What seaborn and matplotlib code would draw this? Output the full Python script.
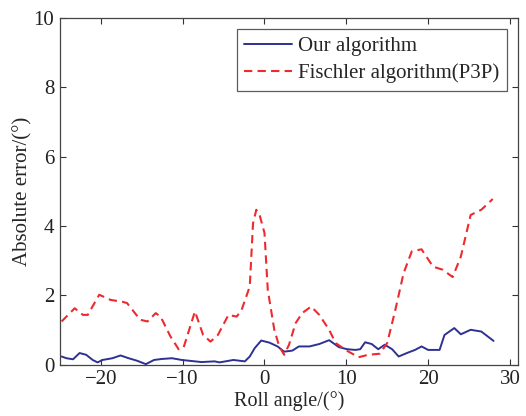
import pandas as pd
import seaborn as sns
import matplotlib.pyplot as plt

# Valores
ours_x = [-24.8, -24.2, -23.4, -22.6, -21.8, -21.0, -20.4, -19.8, -18.6, -17.6,
          -16.6, -15.6, -14.5, -13.5, -12.5, -11.3, -10.1, -9.3, -7.7, -6.1,
          -5.5, -3.8, -2.4, -1.8, -1.2, -0.4, 0.6, 1.6, 2.4, 3.4,
          4.2, 5.5, 6.7, 7.9, 9.1, 10.1, 11.1, 11.7, 12.3, 13.1,
          13.9, 14.7, 15.6, 16.4, 17.4, 18.4, 19.2, 20.0, 21.4, 22.0,
          23.2, 24.0, 25.2, 26.5, 28.0]
ours_y = [0.24, 0.19, 0.16, 0.34, 0.29, 0.14, 0.07, 0.14, 0.19, 0.27,
          0.19, 0.12, 0.02, 0.14, 0.17, 0.19, 0.14, 0.12, 0.08, 0.10,
          0.07, 0.14, 0.10, 0.24, 0.48, 0.70, 0.64, 0.53, 0.38, 0.41,
          0.53, 0.53, 0.60, 0.71, 0.51, 0.45, 0.43, 0.45, 0.65, 0.60,
          0.45, 0.58, 0.45, 0.24, 0.34, 0.43, 0.53, 0.43, 0.43, 0.86,
          1.06, 0.88, 1.01, 0.96, 0.69]

fischler_x = [-24.8, -23.2, -22.2, -21.6, -20.2, -18.8, -17.4, -16.8, -15.2, -14.3,
              -13.3, -12.7, -11.5, -10.5, -9.9, -8.5, -7.5, -6.6, -5.7, -4.4,
              -3.4, -2.8, -1.8, -1.4, -1.0, -0.6, 0.0, 0.4, 1.2, 1.8,
              2.4, 3.0, 3.8, 4.6, 5.7, 6.7, 7.9, 8.7, 9.9, 11.5,
              12.7, 14.1, 15.0, 16.0, 17.0, 18.0, 19.2, 20.6, 21.8, 23.0,
              24.0, 25.2, 26.5, 27.9]
fischler_y = [1.25, 1.63, 1.44, 1.44, 2.02, 1.87, 1.82, 1.78, 1.30, 1.25,
              1.49, 1.39, 0.82, 0.45, 0.49, 1.54, 0.86, 0.67, 0.86, 1.44,
              1.39, 1.58, 2.26, 4.08, 4.47, 4.32, 3.80, 2.16, 1.01, 0.53,
              0.29, 0.58, 1.20, 1.49, 1.68, 1.44, 1.01, 0.63, 0.43, 0.22,
              0.29, 0.32, 0.63, 1.59, 2.64, 3.27, 3.33, 2.83, 2.74, 2.53,
              3.12, 4.32, 4.47, 4.78]

x_ticks = [-20, -10, 0, 10, 20, 30]
y_ticks = [0, 2, 4, 6, 8, 10]

sns.set_style('white')
plt.rcParams['font.family'] = ['Liberation Serif', 'DejaVu Serif']
plt.rcParams['font.size'] = 15

fig = plt.figure(figsize=(5.26, 4.16), dpi=100)
ax = fig.add_axes([0.114, 0.123, 0.871, 0.834])

sns.lineplot(x=ours_x, y=ours_y, ax=ax, color='#2e3192', linewidth=1.4,
             label='Our algorithm')
sns.lineplot(x=fischler_x, y=fischler_y, ax=ax, color='#ee2a2e', linewidth=1.5,
             linestyle=(0, (4, 2.5)), label='Fischler algorithm(P3P)')

ax.set_xlim(-25, 31)
ax.set_ylim(0, 10)
ax.set_xticks(x_ticks)
ax.set_yticks(y_ticks)
ax.set_xticklabels(['\u221220', '\u221210', '0', '10', '20', '30'])
ax.set_xlabel('Roll angle/(\u00b0)', fontsize=14.5, labelpad=1)
ax.set_ylabel('Absolute error/(\u00b0)', fontsize=15, labelpad=1)
ax.tick_params(direction='in', length=4, width=0.8, top=True, right=True,
               bottom=True, left=True, labelsize=15, colors='#333333', pad=4)
ax.tick_params(labelcolor='#222222')
for s in ax.spines.values():
    s.set_color('#444444')
    s.set_linewidth(0.9)

leg = ax.legend(loc='upper right', fontsize=15, frameon=True, fancybox=False,
                handlelength=2.3, handletextpad=0.3, borderpad=0.35,
                labelspacing=0.35, borderaxespad=0.55)
leg.get_frame().set_edgecolor('#333333')
leg.get_frame().set_linewidth(0.9)

fig.savefig('out.png', dpi=100)
